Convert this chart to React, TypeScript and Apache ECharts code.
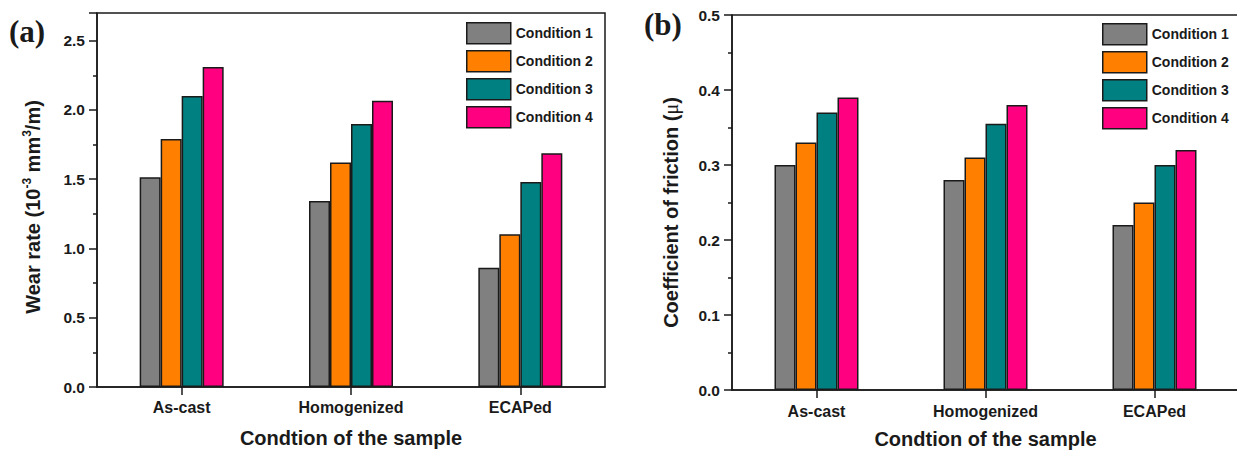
import React, { useEffect, useRef } from "react";
import * as echarts from "echarts";

const categories = ["As-cast", "Homogenized", "ECAPed"];
const conditionNames = ["Condition 1", "Condition 2", "Condition 3", "Condition 4"];

const wearCond1 = [1.515, 1.343, 0.861];
const wearCond2 = [1.79, 1.62, 1.102];
const wearCond3 = [2.10, 1.898, 1.48];
const wearCond4 = [2.31, 2.067, 1.687];

const frictionCond1 = [0.30, 0.28, 0.22];
const frictionCond2 = [0.33, 0.31, 0.25];
const frictionCond3 = [0.37, 0.355, 0.30];
const frictionCond4 = [0.39, 0.38, 0.32];

const wearTicks = { min: 0, max: 2.7, interval: 0.5 };
const frictionTicks = { min: 0, max: 0.5, interval: 0.1 };

const colors = ["#808080", "#FF8000", "#008080", "#FF0080"];

const SANS = "'Liberation Sans', Arial, Helvetica, sans-serif";
const SERIF = "'Liberation Serif', 'Times New Roman', serif";
const INK = "#1a1a1a";

export default function App() {
  const ref = useRef<HTMLDivElement>(null);

  useEffect(() => {
    if (!ref.current) return;
    const chart = echarts.init(ref.current, undefined, { renderer: "svg" });

    const wearData = [wearCond1, wearCond2, wearCond3, wearCond4];
    const frictionData = [frictionCond1, frictionCond2, frictionCond3, frictionCond4];

    const lineStyle = { color: INK, width: 1.5 };

    const makeX = (gridIndex: number, nameGap: number, labelMargin: number) => ({
      type: "category",
      gridIndex,
      data: categories,
      axisLine: { show: true, lineStyle },
      axisTick: { show: true, alignWithLabel: true, length: 8, lineStyle },
      axisLabel: { color: INK, fontFamily: SANS, fontWeight: "bold", fontSize: 16, margin: labelMargin },
      splitLine: { show: false },
      name: "Condtion of the sample",
      nameLocation: "middle",
      nameGap,
      nameTextStyle: { color: INK, fontFamily: SANS, fontWeight: "bold", fontSize: 20, lineHeight: 20 },
    });

    const makeY = (
      gridIndex: number,
      t: { min: number; max: number; interval: number },
      name: string,
      nameGap: number,
      shift: number,
      rich: any
    ) => ({
      type: "value",
      gridIndex,
      min: t.min,
      max: t.max,
      interval: t.interval,
      axisLine: { show: true, lineStyle },
      axisTick: { show: true, inside: false, length: 8, lineStyle },
      minorTick: { show: true, splitNumber: 2, length: 4, lineStyle },
      splitLine: { show: false },
      minorSplitLine: { show: false },
      axisLabel: {
        color: INK,
        fontFamily: SANS,
        fontWeight: "bold",
        fontSize: 15.5,
        margin: 12,
        showMaxLabel: t.max / t.interval === Math.round(t.max / t.interval),
        formatter: (v: number) => v.toFixed(1),
      },
      name,
      nameLocation: "middle",
      nameGap,
      nameTextStyle: {
        color: INK,
        fontFamily: SANS,
        fontWeight: "bold",
        fontSize: 20,
        padding: [0, shift, 0, 0],
        rich,
      },
    });

    const richBase = {
      t: { fontFamily: SANS, fontWeight: "bold", fontSize: 20, color: INK, lineHeight: 23 },
      s: { fontFamily: SANS, fontWeight: "bold", fontSize: 12, color: INK, verticalAlign: "top", lineHeight: 13 },
      m: { fontFamily: SERIF, fontWeight: "normal", fontSize: 20, color: INK, lineHeight: 23 },
    };

    const legendBase = {
      data: conditionNames,
      orient: "vertical",
      icon: "rect",
      itemWidth: 44,
      itemHeight: 21,
      itemGap: 5.5,
      padding: 0,
      textStyle: { color: INK, fontFamily: SANS, fontWeight: "bold", fontSize: 14 },
      itemStyle: { borderColor: INK, borderWidth: 1.5 },
      selectedMode: false,
    };

    const series: any[] = [];
    wearData.forEach((d, i) => {
      series.push({
        type: "bar",
        name: conditionNames[i],
        xAxisIndex: 0,
        yAxisIndex: 0,
        data: d,
        barWidth: 21,
        barGap: "0%",
        itemStyle: { color: colors[i], borderColor: INK, borderWidth: 1.5 },
      });
    });
    frictionData.forEach((d, i) => {
      series.push({
        type: "bar",
        name: conditionNames[i],
        xAxisIndex: 1,
        yAxisIndex: 1,
        data: d,
        barWidth: 21,
        barGap: "0%",
        itemStyle: { color: colors[i], borderColor: INK, borderWidth: 1.5 },
      });
    });

    chart.setOption({
      animation: false,
      backgroundColor: "#ffffff",
      grid: [
        {
          left: 97, top: 13, right: 632, bottom: 63,
          show: true, borderColor: INK, borderWidth: 1.5,
          containLabel: false, outerBoundsMode: "none",
        },
        {
          left: 732, top: 15, right: -2, bottom: 60,
          show: true, borderColor: INK, borderWidth: 1.5,
          containLabel: false, outerBoundsMode: "none",
        },
      ],
      legend: [
        { ...legendBase, left: 466, top: 22 },
        { ...legendBase, left: 1102, top: 23 },
      ],
      xAxis: [makeX(0, 41, 12), makeX(1, 39, 13)],
      yAxis: [
        makeY(0, wearTicks, "{t|Wear rate (10}{s|-3}{t| mm}{s|3}{t|/m)}", 53, 14, richBase),
        makeY(1, frictionTicks, "{t|Coefficient of friction (}{m|μ}{t|)}", 50, 20, richBase),
      ],
      graphic: [
        { type: "text", left: 9, top: 16, style: { text: "(a)", fontFamily: SERIF, fontWeight: "bold", fontSize: 31, fill: INK } },
        { type: "text", left: 644, top: 9, style: { text: "(b)", fontFamily: SERIF, fontWeight: "bold", fontSize: 31, fill: INK } },
      ],
      series,
    });

    return () => chart.dispose();
  }, []);

  return (
    <div
      ref={ref}
      style={{ position: "fixed", left: 0, top: 0, width: 1237, height: 450, background: "#fff" }}
    />
  );
}
